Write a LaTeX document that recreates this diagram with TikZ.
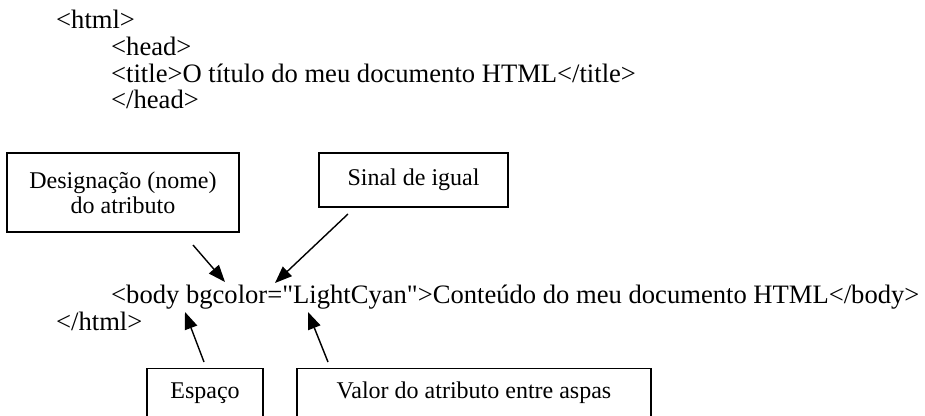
\documentclass[tikz,border=0pt]{standalone}
\usepackage{fontspec}
\setmainfont{Liberation Serif}[Ligatures=TeXOff]
\usetikzlibrary{arrows.meta}
\begin{document}
\begin{tikzpicture}[x=1pt,y=-1pt,
  code/.style={anchor=base west, inner sep=0pt, font=\fontsize{26.6}{27}\selectfont},
  box/.style={draw, line width=1.4pt, inner sep=0pt, align=center,
    font=\fontsize{24}{25}\selectfont},
  pointer/.style={line width=1.4pt, -{Triangle[length=17pt,width=13pt]}}]
\useasboundingbox (0,0) rectangle (925,415);

% HTML source lines
\node[code] (html)    at (56,28)  {<html>};
\node[code] (head)    at (111,55) {<head>};
\node[code] (title)   at (111,82) {<title>O título do meu documento HTML</title>};
\node[code] (headend) at (111,108) {</head>};
\node[code] (body)    at (111,303) {<body bgcolor="LightCyan">Conteúdo do meu documento HTML</body>};
\node[code] (htmlend) at (56,330) {</html>};

% Callout boxes
\node[box, minimum width=232pt, minimum height=79pt] (nome) at (123,192.5)
  {Designação (nome)\\do atributo};
\node[box, minimum width=189pt, minimum height=54pt] (igual) at (413.5,180)
  {Sinal de igual};
\node[box, anchor=north, minimum width=116pt, text height=30pt, text depth=40pt]
  (espaco) at (205,368) {Espaço};
\node[box, anchor=north, minimum width=354pt, text height=30pt, text depth=40pt]
  (valor) at (474,368) {Valor do atributo entre aspas};

% Arrow ends
\coordinate (nomeTail)   at (193,245);
\coordinate (nomeTip)    at (225,282);
\coordinate (igualTail)  at (348,214);
\coordinate (igualTip)   at (275,283);
\coordinate (espacoTail) at (204,362);
\coordinate (espacoTip)  at (185,312);
\coordinate (valorTail)  at (328,362);
\coordinate (valorTip)   at (308,312);

% Pointers to the parts of the tag
\draw[pointer] (nomeTail) -- (nomeTip);
\draw[pointer] (igualTail) -- (igualTip);
\draw[pointer] (espacoTail) -- (espacoTip);
\draw[pointer] (valorTail) -- (valorTip);
\end{tikzpicture}
\end{document}
